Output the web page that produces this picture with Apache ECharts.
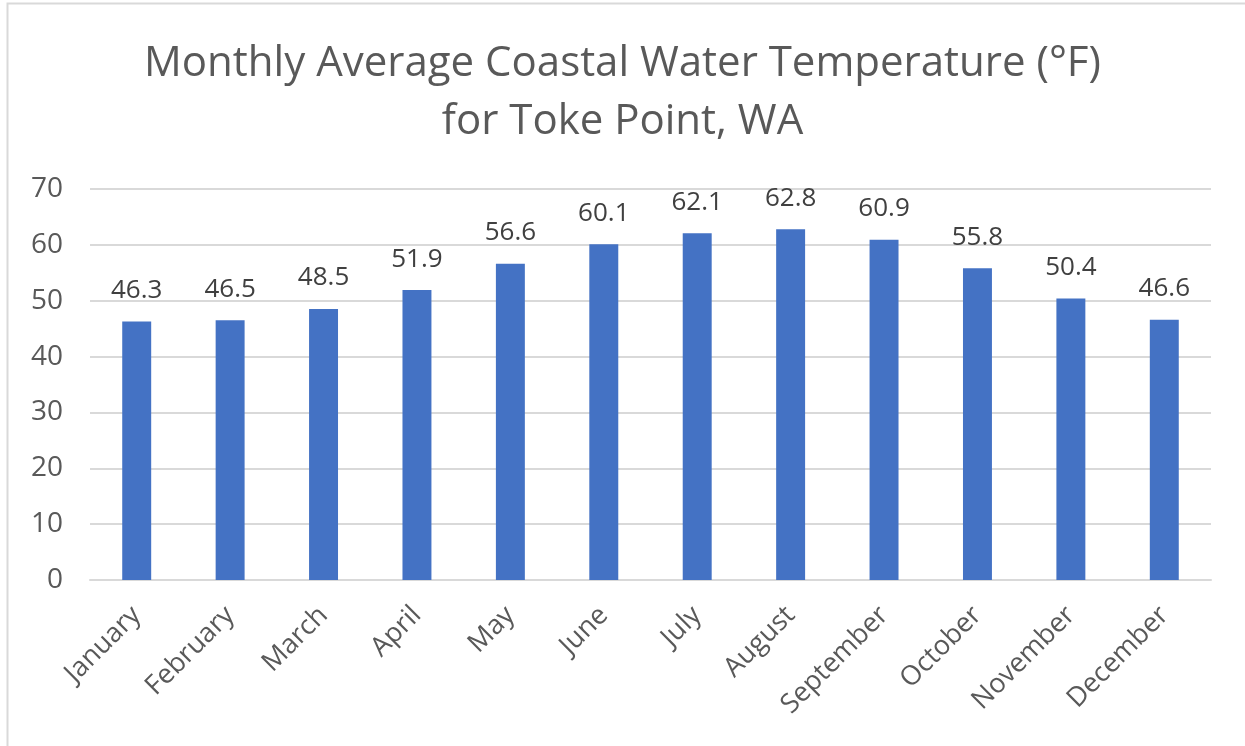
<!DOCTYPE html>
<html>
<head>
<meta charset="utf-8">
<script src="https://cdn.jsdelivr.net/npm/echarts@6/dist/echarts.min.js"></script>
<style>
  html, body { margin: 0; padding: 0; background: #ffffff; }
  #chart { width: 1245px; height: 746px; }
</style>
</head>
<body>
<div id="chart"></div>
<script>
// Monthly average coastal water temperature (°F), Toke Point, WA
const months = ['January', 'February', 'March', 'April', 'May', 'June',
                'July', 'August', 'September', 'October', 'November', 'December'];
const temperatures = [46.3, 46.5, 48.5, 51.9, 56.6, 60.1, 62.1, 62.8, 60.9, 55.8, 50.4, 46.6];
const yTicks = { min: 0, max: 70, interval: 10 };

const FONT = '"Open Sans", "Liberation Sans", sans-serif';
const chart = echarts.init(document.getElementById('chart'), null, { renderer: 'canvas' });

chart.setOption({
  backgroundColor: '#ffffff',
  animation: false,
  graphic: [{
    type: 'rect',
    shape: { x: 7.5, y: 3.5, width: 1250, height: 760 },
    style: { fill: 'none', stroke: '#d9d9d9', lineWidth: 2 },
    silent: true
  }],
  title: {
    text: 'Monthly Average Coastal Water Temperature (°F)\nfor Toke Point, WA',
    left: 'center',
    top: 30,
    textStyle: {
      fontFamily: FONT,
      fontSize: 42,
      fontWeight: 'normal',
      color: '#595959',
      lineHeight: 58
    }
  },
  grid: { left: 90, right: 34, top: 189, bottom: 166, containLabel: false },
  xAxis: {
    type: 'category',
    data: months,
    axisLine: { show: true, lineStyle: { color: '#d9d9d9', width: 2 } },
    axisTick: { show: false },
    axisLabel: {
      interval: 0,
      rotate: 45,
      margin: 31,
      fontFamily: FONT,
      fontSize: 27,
      color: '#595959'
    }
  },
  yAxis: {
    type: 'value',
    min: yTicks.min,
    max: yTicks.max,
    interval: yTicks.interval,
    axisLine: { show: false },
    axisTick: { show: false },
    splitLine: { lineStyle: { color: '#d9d9d9', width: 2 } },
    axisLabel: {
      margin: 27,
      fontFamily: FONT,
      fontSize: 28,
      color: '#595959'
    }
  },
  series: [{
    type: 'bar',
    data: temperatures,
    barWidth: '31%',
    itemStyle: { color: '#4472c4' },
    label: {
      show: true,
      position: 'top',
      distance: 18,
      fontFamily: FONT,
      fontSize: 26,
      color: '#404040',
      formatter: p => p.value.toFixed(1)
    }
  }]
});
</script>
</body>
</html>
